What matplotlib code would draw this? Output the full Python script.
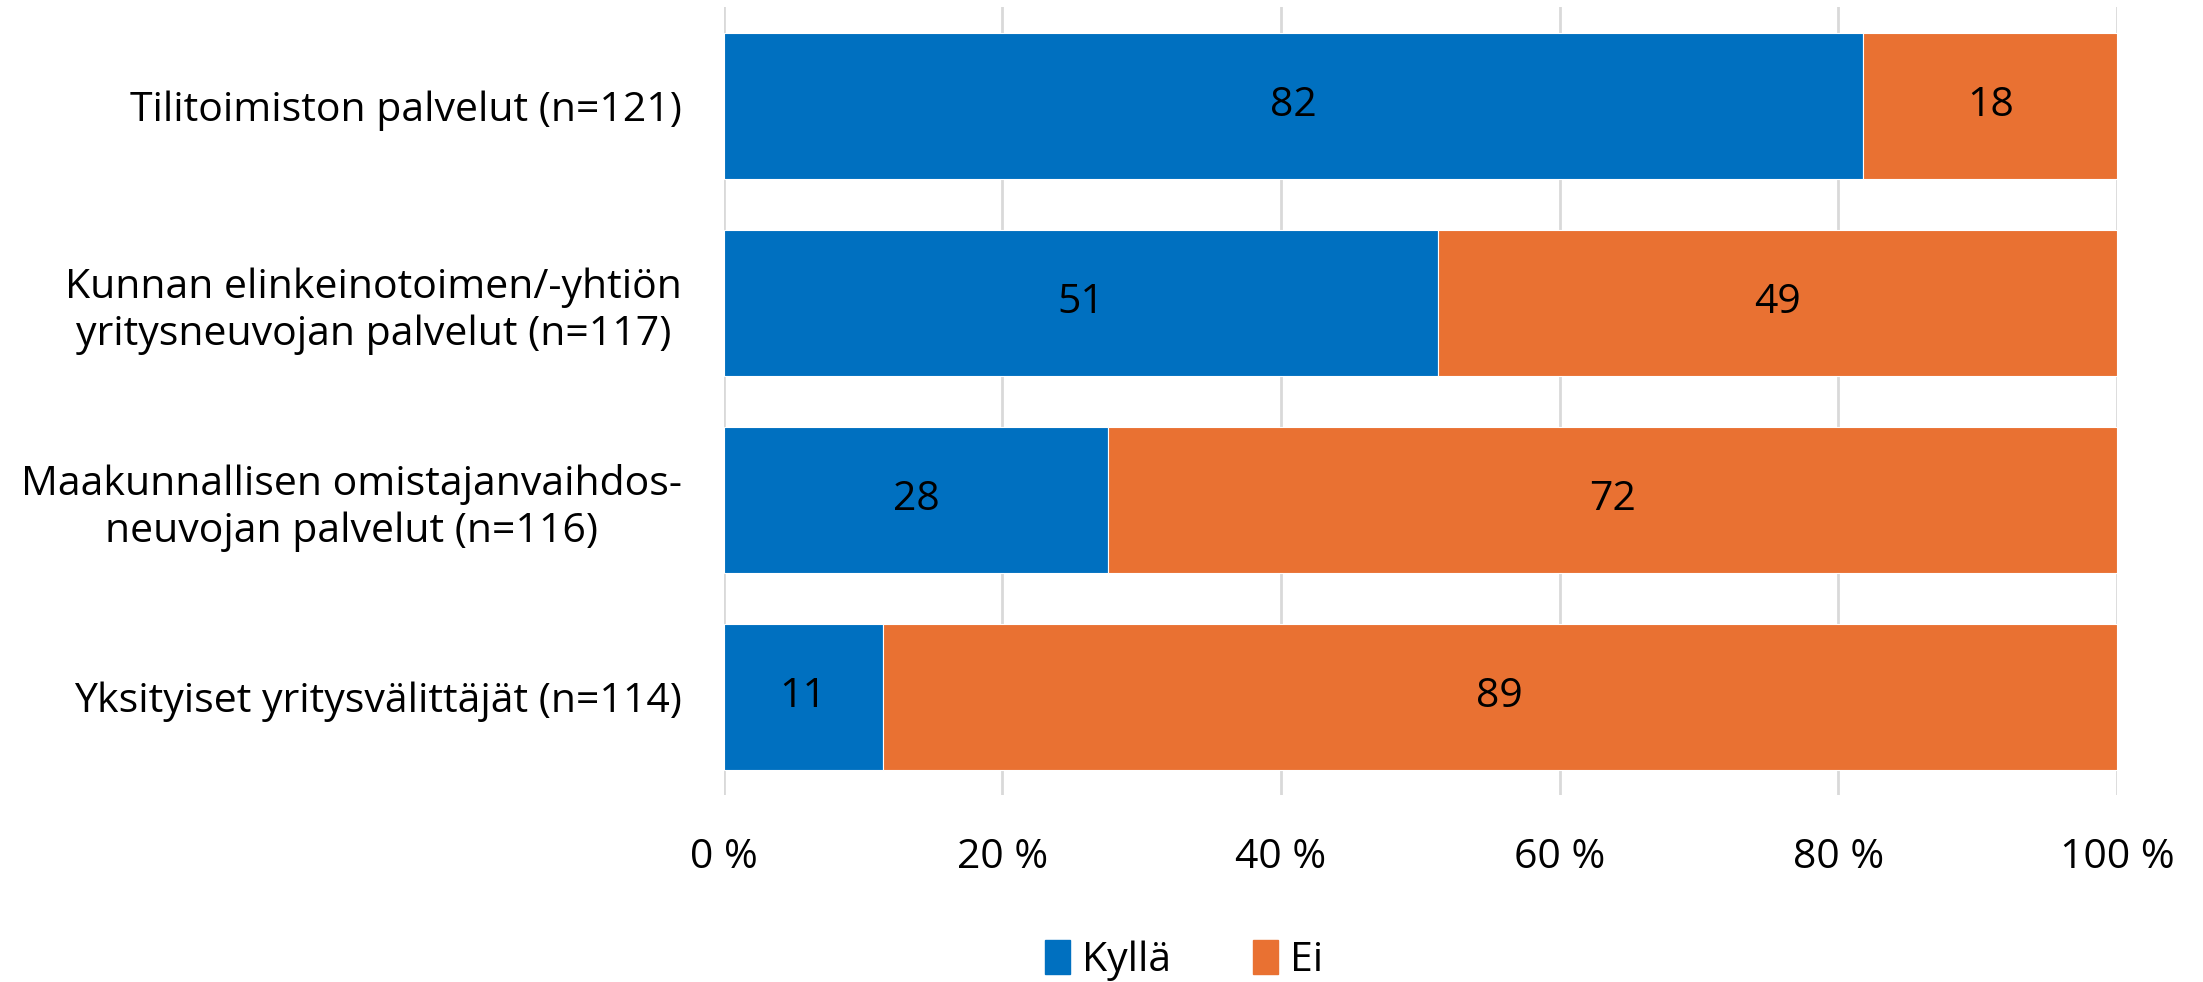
import numpy as np
import matplotlib.pyplot as plt
from matplotlib.patches import Patch

categories = [
    "Tilitoimiston palvelut (n=121)",
    "Kunnan elinkeinotoimen/-yhtiön\nyritysneuvojan palvelut (n=117)",
    "Maakunnallisen omistajanvaihdos-\nneuvojan palvelut (n=116)",
    "Yksityiset yritysvälittäjät (n=114)",
]
kylla = [81.8, 51.3, 27.6, 11.4]
ei = [18.2, 48.7, 72.4, 88.6]
xticks = [0, 20, 40, 60, 80, 100]

blue = '#0070C0'
orange = '#E97132'

plt.rcParams['font.family'] = ['Open Sans', 'DejaVu Sans']
fs = 29.5

fig = plt.figure(figsize=(22.03, 9.82), dpi=100)
ax = fig.add_axes([0.3285, 0.19, 0.6325, 0.8024])

y = np.arange(len(categories))
ax.barh(y, kylla, height=0.74, color=blue, edgecolor='white', linewidth=0.8, zorder=2)
ax.barh(y, ei, left=kylla, height=0.74, color=orange, edgecolor='white', linewidth=0.8, zorder=2)

for i in range(len(categories)):
    ax.text(kylla[i] / 2, y[i], f"{kylla[i]:.0f}", ha='center', va='center', fontsize=fs, color='black')
    ax.text(kylla[i] + ei[i] / 2, y[i], f"{ei[i]:.0f}", ha='center', va='center', fontsize=fs, color='black')

ax.set_ylim(len(categories) - 0.5, -0.5)
ax.set_xlim(0, 100)
ax.set_yticks(y)
ax.set_yticklabels(categories, fontsize=fs, multialignment='center')
ax.set_xticks(xticks)
ax.set_xticklabels([f"{t} %" for t in xticks], fontsize=fs)
ax.tick_params(axis='both', length=0)
ax.tick_params(axis='y', pad=30)
ax.tick_params(axis='x', pad=30)
ax.grid(axis='x', color='#d9d9d9', linewidth=2, zorder=0)
for s in ax.spines.values():
    s.set_visible(False)

handles = [Patch(color=blue, label='Kyllä'), Patch(color=orange, label='Ei')]
fig.legend(handles=handles, loc='center', bbox_to_anchor=(0.5375, 0.022), ncol=2, frameon=False,
           fontsize=fs, handlelength=0.6, handleheight=0.9, handletextpad=0.3, columnspacing=2.0)

fig.savefig('out.png', dpi=100)
